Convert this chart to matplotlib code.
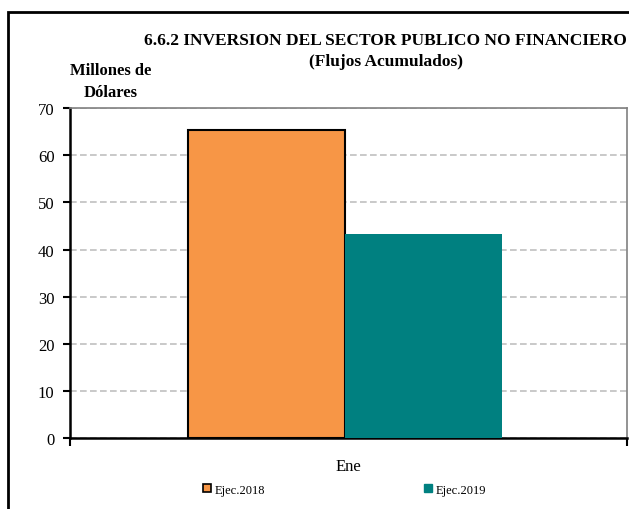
import matplotlib.pyplot as plt
from matplotlib.patches import Rectangle
from matplotlib.lines import Line2D

categories = ["Ene"]
series_names = ["Ejec.2018", "Ejec.2019"]
ejec_2018 = [65.3]
ejec_2019 = [43.3]
colors = ["#F79646", "#008080"]
yticks = [0, 10, 20, 30, 40, 50, 60, 70]

plt.rcParams['font.family'] = ['Liberation Serif', 'DejaVu Serif']

fig = plt.figure(figsize=(6.29, 5.10), dpi=100)
ax = fig.add_axes([0.111, 0.139, 0.886, 0.647])

w = 0.282
ax.bar(-w / 2, ejec_2018[0], width=w, color=colors[0], edgecolor="black", linewidth=1.5, zorder=3)
ax.bar(w / 2, ejec_2019[0], width=w, color=colors[1], edgecolor="none", zorder=3)

ax.set_xlim(-0.494, 0.506)
ax.set_ylim(0, 70)
ax.set_yticks(yticks)
ax.set_yticklabels([str(v) for v in yticks], fontsize=12)
ax.yaxis.grid(True, linestyle=(0, (4, 2)), color="#C0C0C0", linewidth=1.2, zorder=0)
ax.set_axisbelow(True)

ax.set_xticks([0.006])
ax.set_xticklabels(categories, fontsize=12)
ax.tick_params(axis='x', which='major', length=0, pad=14)
ax.set_xticks([-0.494, 0.506], minor=True)
ax.tick_params(axis='x', which='minor', length=6, width=1.5, direction='out')
ax.tick_params(axis='y', length=5, width=1.5, direction='out', pad=6)

for s in ["left", "bottom"]:
    ax.spines[s].set_linewidth(1.8)
    ax.spines[s].set_color("black")
for s in ["top", "right"]:
    ax.spines[s].set_linewidth(1.2)
    ax.spines[s].set_color("#808080")

fig.text(0.613, 0.92, "6.6.2 INVERSION DEL SECTOR PUBLICO NO FINANCIERO",
         ha="center", va="center", fontsize=12.5, fontweight="bold")
fig.text(0.613, 0.879, "(Flujos Acumulados)", ha="center", va="center",
         fontsize=12.5, fontweight="bold")
fig.text(0.176, 0.86, "Millones de", ha="center", va="center", fontsize=12, fontweight="bold")
fig.text(0.176, 0.818, "Dólares", ha="center", va="center", fontsize=12, fontweight="bold")

handles = [Line2D([], [], marker="s", linestyle="none", markersize=6,
                  markerfacecolor=colors[0], markeredgecolor="black", markeredgewidth=1.2),
           Line2D([], [], marker="s", linestyle="none", markersize=6,
                  markerfacecolor=colors[1], markeredgecolor=colors[1])]
fig.legend(handles, series_names, loc="center", bbox_to_anchor=(0.547, 0.038), ncol=2,
           frameon=False, fontsize=9, handlelength=0.8, handletextpad=0.2,
           columnspacing=12.7)

fig.patches.append(Rectangle((8 / 629, -0.05), 1.2, 1 - 13 / 510 + 0.05,
                             transform=fig.transFigure, fill=False,
                             edgecolor="black", linewidth=2))

plt.savefig("out.png", dpi=100)
